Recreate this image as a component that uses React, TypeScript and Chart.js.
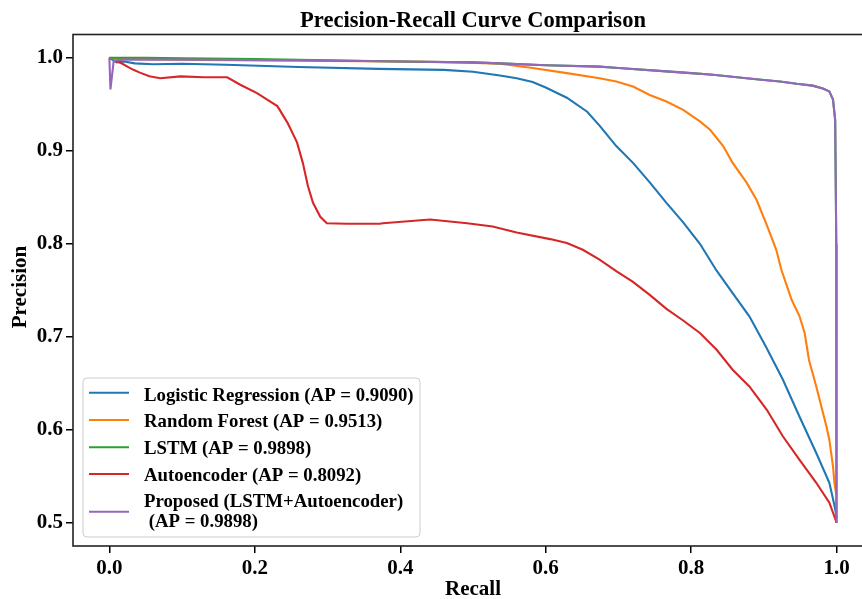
import React, { useEffect, useRef } from "react";
import { Chart, registerables } from "chart.js";

Chart.register(...registerables);

const FONT = "'Liberation Serif', 'Times New Roman', serif";

const chartTitle = "Precision-Recall Curve Comparison";
const xAxisTitle = "Recall";
const yAxisTitle = "Precision";

const seriesLabels = [
  "Logistic Regression (AP = 0.9090)",
  "Random Forest (AP = 0.9513)",
  "LSTM (AP = 0.9898)",
  "Autoencoder (AP = 0.8092)",
  "Proposed (LSTM+Autoencoder)\n (AP = 0.9898)",
];
const seriesColors = ["#1f77b4", "#ff7f0e", "#2ca02c", "#d62728", "#9467bd"];

const xTicks = [0, 0.2, 0.4, 0.6, 0.8, 1.0];
const yTicks = [0.5, 0.6, 0.7, 0.8, 0.9, 1.0];

// Logistic Regression
const lrRecall = [0, 0.004, 0.01, 0.02, 0.035, 0.06, 0.1, 0.16, 0.26, 0.37, 0.46, 0.5, 0.537, 0.56, 0.582, 0.6, 0.629, 0.657, 0.674, 0.697, 0.72, 0.743, 0.766, 0.789, 0.812, 0.835, 0.857, 0.88, 0.903, 0.926, 0.949, 0.972, 0.99, 0.998, 1.0];
const lrPrecision = [1.0, 0.998, 0.995, 0.996, 0.994, 0.993, 0.9935, 0.9925, 0.99, 0.988, 0.987, 0.985, 0.981, 0.978, 0.974, 0.968, 0.957, 0.942, 0.927, 0.905, 0.887, 0.866, 0.844, 0.823, 0.8, 0.771, 0.747, 0.722, 0.689, 0.654, 0.614, 0.575, 0.543, 0.515, 0.505];

// Random Forest
const rfRecall = [0, 0.01, 0.1, 0.2, 0.3, 0.4, 0.48, 0.537, 0.582, 0.629, 0.674, 0.697, 0.72, 0.743, 0.766, 0.789, 0.812, 0.826, 0.844, 0.857, 0.876, 0.89, 0.904, 0.917, 0.924, 0.938, 0.949, 0.956, 0.962, 0.972, 0.979, 0.986, 0.99, 0.995, 0.997, 0.9995];
const rfPrecision = [1.0, 0.999, 0.998, 0.997, 0.9965, 0.996, 0.995, 0.9935, 0.989, 0.9835, 0.978, 0.9745, 0.969, 0.96, 0.953, 0.944, 0.9315, 0.9226, 0.905, 0.887, 0.866, 0.847, 0.82, 0.7935, 0.772, 0.74, 0.722, 0.704, 0.675, 0.6466, 0.625, 0.6035, 0.589, 0.5605, 0.543, 0.53];

// LSTM
const lstmRecall = [0, 0.05, 0.1, 0.2, 0.3, 0.4, 0.5, 0.537, 0.6, 0.674, 0.7, 0.766, 0.8, 0.83, 0.876, 0.9, 0.922, 0.945, 0.967, 0.981, 0.99, 0.995, 0.998, 0.9995, 0.9998];
const lstmPrecision = [1.0, 1.0, 0.9995, 0.9985, 0.9972, 0.996, 0.995, 0.994, 0.992, 0.9905, 0.989, 0.9853, 0.9835, 0.9817, 0.978, 0.976, 0.9745, 0.972, 0.97, 0.967, 0.9638, 0.955, 0.933, 0.8, 0.5];

// Autoencoder
const aeRecall = [0.008, 0.011, 0.018, 0.026, 0.033, 0.042, 0.055, 0.07, 0.098, 0.13, 0.162, 0.18, 0.203, 0.217, 0.231, 0.245, 0.258, 0.266, 0.273, 0.28, 0.29, 0.299, 0.327, 0.372, 0.376, 0.441, 0.492, 0.527, 0.56, 0.606, 0.629, 0.651, 0.674, 0.698, 0.72, 0.743, 0.766, 0.788, 0.812, 0.835, 0.857, 0.88, 0.904, 0.926, 0.949, 0.972, 0.99, 1.0];
const aePrecision = [0.997, 0.996, 0.9935, 0.99, 0.987, 0.984, 0.98, 0.978, 0.98, 0.979, 0.979, 0.971, 0.962, 0.955, 0.948, 0.93, 0.909, 0.887, 0.862, 0.844, 0.829, 0.822, 0.8215, 0.8215, 0.822, 0.826, 0.822, 0.8186, 0.812, 0.805, 0.8007, 0.7935, 0.783, 0.77, 0.759, 0.745, 0.73, 0.718, 0.704, 0.686, 0.6645, 0.6466, 0.6215, 0.593, 0.5677, 0.543, 0.5215, 0.5];

// Proposed (LSTM+Autoencoder)
const propRecall = [0, 0.0015, 0.006, 0.02, 0.1, 0.2, 0.3, 0.4, 0.5, 0.537, 0.6, 0.674, 0.7, 0.766, 0.8, 0.83, 0.876, 0.9, 0.922, 0.945, 0.967, 0.981, 0.99, 0.995, 0.998, 0.9995, 0.9998];
const propPrecision = [1.0, 0.966, 0.997, 0.998, 0.998, 0.9975, 0.997, 0.996, 0.995, 0.994, 0.992, 0.9905, 0.989, 0.9853, 0.9835, 0.9817, 0.978, 0.976, 0.9745, 0.972, 0.97, 0.967, 0.9638, 0.955, 0.933, 0.8, 0.5];

export default function App() {
  const ref = useRef<HTMLCanvasElement>(null);

  useEffect(() => {
    const canvas = ref.current;
    if (!canvas) return;
    const recalls = [lrRecall, rfRecall, lstmRecall, aeRecall, propRecall];
    const precisions = [lrPrecision, rfPrecision, lstmPrecision, aePrecision, propPrecision];

    const datasets = seriesLabels.map((label, i) => ({
      label,
      data: recalls[i].map((r, j) => ({ x: r, y: precisions[i][j] })),
      borderColor: seriesColors[i],
      backgroundColor: seriesColors[i],
      borderWidth: 2.1,
      pointRadius: 0,
      tension: 0,
      fill: false,
      order: seriesLabels.length - i,
    }));

    const overlay = {
      id: "overlay",
      afterDatasetsDraw(chart: any) {
        const { ctx, chartArea } = chart;
        ctx.save();
        ctx.strokeStyle = "#222";
        ctx.lineWidth = 1.6;
        ctx.strokeRect(chartArea.left, chartArea.top, chartArea.right - chartArea.left, chartArea.bottom - chartArea.top);
        ctx.restore();
      },
      afterDraw(chart: any) {
        const { ctx, chartArea } = chart;
        const cx = (chartArea.left + chartArea.right) / 2;
        ctx.save();
        ctx.fillStyle = "#000";
        ctx.font = `bold 22.5px ${FONT}`;
        ctx.textAlign = "center";
        ctx.textBaseline = "alphabetic";
        ctx.fillText(chartTitle, cx, 27);
        ctx.font = `bold 21px ${FONT}`;
        ctx.fillText(xAxisTitle, cx, 595);
        ctx.save();
        ctx.translate(26, 287);
        ctx.rotate(-Math.PI / 2);
        ctx.fillText(yAxisTitle, 0, 0);
        ctx.restore();

        const bx = 83, by = 378, bw = 337, bh = 159, r = 4;
        ctx.beginPath();
        ctx.moveTo(bx + r, by);
        ctx.lineTo(bx + bw - r, by);
        ctx.arcTo(bx + bw, by, bx + bw, by + r, r);
        ctx.lineTo(bx + bw, by + bh - r);
        ctx.arcTo(bx + bw, by + bh, bx + bw - r, by + bh, r);
        ctx.lineTo(bx + r, by + bh);
        ctx.arcTo(bx, by + bh, bx, by + bh - r, r);
        ctx.lineTo(bx, by + r);
        ctx.arcTo(bx, by, bx + r, by, r);
        ctx.closePath();
        ctx.fillStyle = "rgba(255,255,255,0.8)";
        ctx.fill();
        ctx.strokeStyle = "#cccccc";
        ctx.lineWidth = 1;
        ctx.stroke();

        const handleY = [392.7, 420, 447.3, 474, 511.7];
        const baseY = [400.5, 427, 453.7, 480.5, 507];
        ctx.font = `bold 18.8px ${FONT}`;
        ctx.textAlign = "left";
        seriesLabels.forEach((label, i) => {
          ctx.strokeStyle = seriesColors[i];
          ctx.lineWidth = 2;
          ctx.beginPath();
          ctx.moveTo(89, handleY[i]);
          ctx.lineTo(129, handleY[i]);
          ctx.stroke();
          ctx.fillStyle = "#000";
          const lines = label.split("\n");
          lines.forEach((ln, k) => {
            ctx.fillText(ln, 144, baseY[i] + k * 19.5);
          });
        });
        ctx.restore();
      },
    };

    const tickFont = { family: FONT, size: 21, weight: "bold" as const };

    const chart = new Chart(canvas, {
      type: "line",
      data: { datasets },
      options: {
        responsive: false,
        animation: false,
        devicePixelRatio: 1,
        layout: { padding: { top: 34.5, right: 7, left: 0, bottom: 0 } },
        plugins: {
          legend: { display: false },
          title: { display: false },
          tooltip: { enabled: false },
        },
        scales: {
          x: {
            type: "linear",
            min: -0.05,
            max: 1.05,
            afterBuildTicks: (s: any) => {
              s.ticks = xTicks.map((v) => ({ value: v }));
            },
            afterFit: (s: any) => {
              s.height = 53;
            },
            ticks: {
              font: tickFont,
              color: "#000",
              padding: 3,
              maxRotation: 0,
              autoSkip: false,
              callback: (v: any) => Number(v).toFixed(1),
            },
            grid: { drawOnChartArea: false, drawTicks: true, tickLength: 7, color: "#000", lineWidth: 1.5 },
            border: { display: false },
          },
          y: {
            type: "linear",
            min: 0.475,
            max: 1.025,
            afterBuildTicks: (s: any) => {
              s.ticks = yTicks.map((v) => ({ value: v }));
            },
            afterFit: (s: any) => {
              s.width = 73;
            },
            ticks: {
              font: tickFont,
              color: "#000",
              padding: 3,
              autoSkip: false,
              callback: (v: any) => Number(v).toFixed(1),
            },
            grid: { drawOnChartArea: false, drawTicks: true, tickLength: 7, color: "#000", lineWidth: 1.5 },
            border: { display: false },
          },
        },
      },
      plugins: [overlay],
    } as any);

    return () => chart.destroy();
  }, []);

  return (
    <div
      style={{
        position: "absolute",
        left: 0,
        top: 0,
        width: 862,
        height: 599,
        overflow: "hidden",
        background: "#fff",
      }}
    >
      <canvas ref={ref} width={880} height={599} style={{ display: "block" }} />
    </div>
  );
}
